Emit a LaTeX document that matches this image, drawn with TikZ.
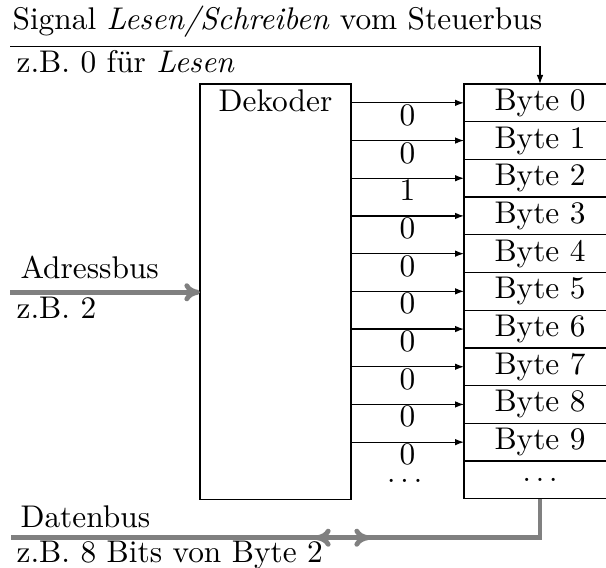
\documentclass[tikz,border=0pt]{standalone}
\usepackage{fontspec}
\usetikzlibrary{arrows.meta}
\definecolor{busgray}{RGB}{128,128,128}
\begin{document}
\begin{tikzpicture}[x=0.33333pt,y=-0.33333pt,
  font=\fontsize{10.45}{12.5}\selectfont,
  txt/.style={anchor=base west, inner sep=0pt},
  bytebox/.style={draw, minimum width=50.67pt, minimum height=12.567pt, inner sep=0pt, outer sep=0pt},
  decbox/.style={draw, anchor=north west, minimum width=50.33pt, minimum height=138.43pt, inner sep=0pt, outer sep=0pt},
  sig/.style={-{Latex[length=3pt,width=2.2pt]}},
  bus/.style={draw=busgray, line width=1.6pt},
  bustip/.style={-{Computer Modern Rightarrow[length=5.2pt,width=6pt]}},
  busboth/.style={{Computer Modern Rightarrow[length=5.2pt,width=6pt]}-{Computer Modern Rightarrow[length=5.2pt,width=6pt]}},
  bitlabel/.style={midway, anchor=base, inner sep=0pt, yshift=-7.5pt}
]
\clip (0,0) rectangle (606,568);

% byte column
\foreach \i in {0,...,9}
  \node[bytebox] (b\i) at (540,{102.85+37.7*\i}) {Byte \i};
\node[bytebox] (b10) at (540,479.85) {$\ldots$};

% decoder
\node[decbox] (dek) at (200,84) {};
\node[anchor=base, inner sep=0pt] (dektxt) at (275.5,111.7) {Dekoder};

% select lines
\foreach \i/\v in {0/0,1/0,2/1,3/0,4/0,5/0,6/0,7/0,8/0,9/0}
  \draw[sig] (dek.east |- b\i.west) -- node[bitlabel] {\v} (b\i.west);
\node[inner sep=0pt] (ddots) at (404.7,481) {$\ldots$};

% control signal
\coordinate (sstart) at (10,46.7);
\draw[sig] (sstart) -| (b0.north);
\node[txt] (sigtxt) at (12,30) {Signal \textit{Lesen/Schreiben} vom Steuerbus};
\node[txt] (sigbsp) at (16,72.3) {z.B. 0 für \textit{Lesen}};

% address bus
\coordinate (astart) at (10,292.3);
\draw[bus, bustip] (astart) -- (astart -| dek.west);
\node[txt] (adrtxt) at (20,278.3) {Adressbus};
\node[txt] (adrbsp) at (16,319) {z.B. 2};

% data bus
\coordinate (dend) at (10.7,537.7);
\draw[bus] (b10.south) |- (dend);
\coordinate (dl) at (315,537.7);
\coordinate (dr) at (370,537.7);
\draw[bus, busboth] (dl) -- (dr);
\node[txt] (dattxt) at (20,527.7) {Datenbus};
\node[txt] (datbsp) at (16,562) {z.B. 8 Bits von Byte 2};
\end{tikzpicture}
\end{document}
